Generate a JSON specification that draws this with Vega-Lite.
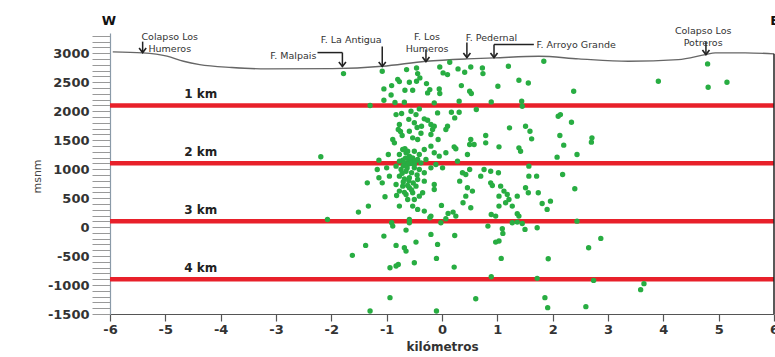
{
  "$schema": "https://vega.github.io/schema/vega-lite/v6.json",
  "width": 664,
  "height": 281,
  "autosize": {"type": "none"},
  "padding": {"left": 110, "top": 33, "right": 1, "bottom": 43},
  "background": "white",
  "config": {"view": {"stroke": null}, "text": {"font": "DejaVu Sans"}},
  "datasets": {
    "lines": [
      {"x": -6, "x2": 6, "y": 2100},
      {"x": -6, "x2": 6, "y": 1100},
      {"x": -6, "x2": 6, "y": 100},
      {"x": -6, "x2": 6, "y": -900}
    ],
    "surface": [
      {"x": -5.95, "y": 3025}, {"x": -5.41, "y": 3007}, {"x": -4.97, "y": 2950}, {"x": -4.67, "y": 2862},
      {"x": -4.38, "y": 2805}, {"x": -3.8, "y": 2755}, {"x": -3.17, "y": 2730}, {"x": -1.98, "y": 2735},
      {"x": -1.08, "y": 2775}, {"x": -0.29, "y": 2862}, {"x": 0.45, "y": 2903}, {"x": 0.94, "y": 2920},
      {"x": 1.75, "y": 2948}, {"x": 2.47, "y": 2903}, {"x": 3.37, "y": 2862}, {"x": 4.27, "y": 2890},
      {"x": 4.76, "y": 2977}, {"x": 4.94, "y": 3007}, {"x": 5.48, "y": 3007}, {"x": 6.0, "y": 2990}
    ],
    "quakes": [
      {"x":-1.78,"y":2649},{"x":-1.08,"y":2690},{"x":-0.64,"y":2718},{"x":-0.46,"y":2747},{"x":-0.44,"y":2649},
      {"x":-0.59,"y":2500},{"x":-0.46,"y":2517},{"x":-0.77,"y":2511},{"x":-0.91,"y":2442},{"x":-1.05,"y":2385},
      {"x":-0.67,"y":2362},{"x":-0.53,"y":2362},{"x":-0.40,"y":2575},{"x":-0.28,"y":2477},{"x":-0.22,"y":2373},
      {"x":-0.26,"y":2316},{"x":-0.04,"y":2764},{"x":0.02,"y":2661},{"x":0.10,"y":2632},{"x":0.14,"y":2845},
      {"x":-0.05,"y":2385},{"x":-0.04,"y":2305},{"x":0.29,"y":2730},{"x":0.41,"y":2672},{"x":0.52,"y":2764},
      {"x":0.35,"y":2442},{"x":0.50,"y":2345},{"x":0.53,"y":2305},{"x":0.73,"y":2747},{"x":0.74,"y":2649},
      {"x":1.01,"y":2431},{"x":1.20,"y":2776},{"x":1.39,"y":2534},{"x":1.56,"y":2488},{"x":1.84,"y":2862},
      {"x":2.38,"y":2345},{"x":-1.05,"y":2190},{"x":-0.68,"y":2155},{"x":-1.30,"y":2098},{"x":-0.14,"y":2144},
      {"x":0.31,"y":2172},{"x":0.89,"y":2161},{"x":1.44,"y":2172},{"x":1.45,"y":2086},{"x":-0.83,"y":1942},
      {"x":-0.73,"y":1960},{"x":-0.56,"y":2000},{"x":-0.47,"y":1942},{"x":-0.41,"y":2040},{"x":-0.32,"y":1868},
      {"x":-0.26,"y":1845},{"x":-0.08,"y":1971},{"x":0.17,"y":1983},{"x":0.23,"y":1885},{"x":0.31,"y":1983},
      {"x":0.62,"y":2029},{"x":-0.77,"y":1770},{"x":-0.79,"y":1684},{"x":-0.59,"y":1655},{"x":-0.53,"y":1540},
      {"x":-0.44,"y":1511},{"x":-0.37,"y":1741},{"x":-0.20,"y":1770},{"x":-0.17,"y":1684},{"x":-0.14,"y":1741},
      {"x":-0.20,"y":1598},{"x":-0.07,"y":1511},{"x":0.07,"y":1684},{"x":0.10,"y":1741},{"x":-0.89,"y":1511},
      {"x":-0.86,"y":1454},{"x":-0.67,"y":1351},{"x":-0.77,"y":1253},{"x":-0.65,"y":1282},{"x":-0.59,"y":1224},
      {"x":-0.50,"y":1310},{"x":-0.41,"y":1253},{"x":-0.32,"y":1339},{"x":-0.20,"y":1397},{"x":-0.14,"y":1282},
      {"x":-0.05,"y":1224},{"x":0.07,"y":1282},{"x":0.22,"y":1385},{"x":0.25,"y":1351},{"x":0.52,"y":1511},
      {"x":0.50,"y":1425},{"x":0.58,"y":1425},{"x":0.79,"y":1580},{"x":0.79,"y":1454},{"x":1.03,"y":1385},
      {"x":1.22,"y":1713},{"x":1.39,"y":1368},{"x":1.42,"y":1310},{"x":1.51,"y":1741},{"x":1.59,"y":1655},
      {"x":1.62,"y":1523},{"x":2.10,"y":1914},{"x":2.14,"y":1942},{"x":2.34,"y":1810},{"x":2.13,"y":1580},
      {"x":2.20,"y":1414},{"x":2.08,"y":1207},{"x":2.44,"y":1253},{"x":2.71,"y":1540},{"x":2.70,"y":1466},
      {"x":-2.19,"y":1213},{"x":-0.97,"y":1253},{"x":-1.14,"y":1155},{"x":0.46,"y":1253},{"x":0.28,"y":1138},
      {"x":-0.71,"y":1155},{"x":-0.71,"y":1339},{"x":-0.62,"y":1310},{"x":-0.53,"y":1195},{"x":-0.44,"y":1167},
      {"x":-0.77,"y":1138},{"x":-0.68,"y":1109},{"x":-0.56,"y":1098},{"x":-0.38,"y":1109},{"x":-0.29,"y":1167},
      {"x":-0.83,"y":1052},{"x":-0.74,"y":994},{"x":-0.65,"y":965},{"x":-0.50,"y":1023},{"x":-0.41,"y":994},
      {"x":-0.32,"y":937},{"x":-0.20,"y":1023},{"x":-0.11,"y":1080},{"x":0.01,"y":1023},{"x":-0.77,"y":879},
      {"x":-0.68,"y":833},{"x":-0.59,"y":851},{"x":-0.44,"y":822},{"x":-0.32,"y":793},{"x":-0.83,"y":736},
      {"x":-0.71,"y":707},{"x":-0.59,"y":678},{"x":-0.47,"y":707},{"x":-0.53,"y":592},{"x":-0.65,"y":563},
      {"x":-0.77,"y":621},{"x":-0.62,"y":477},{"x":-0.50,"y":477},{"x":-0.41,"y":534},{"x":-0.95,"y":879},
      {"x":-1.08,"y":764},{"x":-1.14,"y":851},{"x":-0.14,"y":736},{"x":-0.14,"y":649},{"x":-0.35,"y":592},
      {"x":-1.17,"y":994},{"x":-1.00,"y":1023},{"x":-1.35,"y":764},{"x":-1.03,"y":523},{"x":-0.82,"y":546},
      {"x":-1.33,"y":362},{"x":-1.51,"y":259},{"x":-0.77,"y":362},{"x":-0.53,"y":362},{"x":-0.44,"y":305},
      {"x":-0.32,"y":276},{"x":-0.20,"y":190},{"x":-0.01,"y":374},{"x":0.11,"y":236},{"x":0.20,"y":259},
      {"x":0.25,"y":190},{"x":0.32,"y":793},{"x":0.37,"y":937},{"x":0.43,"y":908},{"x":0.50,"y":994},
      {"x":0.70,"y":879},{"x":0.76,"y":994},{"x":0.88,"y":965},{"x":1.02,"y":937},{"x":0.88,"y":764},
      {"x":0.91,"y":718},{"x":1.06,"y":707},{"x":0.46,"y":678},{"x":0.55,"y":621},{"x":0.38,"y":420},
      {"x":0.43,"y":534},{"x":0.52,"y":333},{"x":1.03,"y":534},{"x":1.12,"y":621},{"x":1.18,"y":563},
      {"x":1.21,"y":477},{"x":1.15,"y":420},{"x":1.27,"y":362},{"x":1.03,"y":362},{"x":1.36,"y":534},
      {"x":1.51,"y":678},{"x":1.56,"y":592},{"x":1.57,"y":879},{"x":1.71,"y":879},{"x":1.74,"y":592},
      {"x":1.81,"y":408},{"x":1.90,"y":305},{"x":1.96,"y":448},{"x":2.18,"y":908},{"x":2.40,"y":661},
      {"x":0.89,"y":218},{"x":0.97,"y":190},{"x":1.36,"y":230},{"x":1.39,"y":190},{"x":1.57,"y":1052},
      {"x":-2.07,"y":132},{"x":-0.91,"y":75},{"x":-0.89,"y":17},{"x":-0.59,"y":132},{"x":-0.59,"y":75},
      {"x":-0.22,"y":161},{"x":-0.02,"y":75},{"x":0.07,"y":144},{"x":1.27,"y":75},{"x":1.36,"y":86},
      {"x":1.45,"y":63},{"x":1.50,"y":-40},{"x":0.83,"y":17},{"x":1.09,"y":-29},{"x":1.10,"y":-109},
      {"x":1.03,"y":-241},{"x":0.97,"y":-259},{"x":1.72,"y":-11},{"x":2.44,"y":103},{"x":-1.05,"y":-155},
      {"x":-0.65,"y":-52},{"x":-0.20,"y":-126},{"x":0.23,"y":-144},{"x":-1.38,"y":-316},{"x":-0.83,"y":-316},
      {"x":-0.68,"y":-356},{"x":-0.65,"y":-414},{"x":-0.47,"y":-259},{"x":-0.08,"y":-299},{"x":2.65,"y":-356},
      {"x":-1.62,"y":-488},{"x":-0.50,"y":-615},{"x":-0.10,"y":-540},{"x":-0.94,"y":-701},{"x":-0.83,"y":-672},
      {"x":-0.79,"y":-644},{"x":0.22,"y":-690},{"x":1.07,"y":-540},{"x":1.92,"y":-546},{"x":0.89,"y":-856},
      {"x":1.72,"y":-885},{"x":2.74,"y":-920},{"x":-0.94,"y":-1218},{"x":0.61,"y":-1236},{"x":1.86,"y":-1218},
      {"x":-1.30,"y":-1448},{"x":-0.10,"y":-1448},{"x":1.91,"y":-1390},{"x":2.60,"y":-1373},{"x":3.65,"y":-976},
      {"x":3.59,"y":-1080},{"x":2.87,"y":-195},{"x":4.80,"y":2817},{"x":4.81,"y":2414},{"x":5.15,"y":2500},
      {"x":3.91,"y":2517},
      {"x":-0.60,"y":1150},{"x":-0.55,"y":1130},{"x":-0.62,"y":1080},{"x":-0.50,"y":1080},{"x":-0.58,"y":1200},
      {"x":-0.66,"y":1190},{"x":-0.48,"y":1140},{"x":-0.70,"y":1060},{"x":-0.63,"y":1020},{"x":-0.55,"y":940},
      {"x":-0.45,"y":900},{"x":-0.72,"y":930},{"x":-0.60,"y":800},{"x":-0.52,"y":760},{"x":-0.70,"y":780},
      {"x":-0.62,"y":720},{"x":-0.55,"y":640},{"x":-0.68,"y":600},{"x":-0.75,"y":1650},{"x":-0.72,"y":1580},
      {"x":-0.60,"y":1860},{"x":-0.50,"y":1800},{"x":-0.45,"y":1720},{"x":-0.38,"y":1620},{"x":-0.85,"y":2150},
      {"x":-0.92,"y":2280},{"x":-0.80,"y":2550}
    ],
    "depth": [
      {"x": -4.36, "y": 2290, "t": "1 km"},
      {"x": -4.36, "y": 1300, "t": "2 km"},
      {"x": -4.36, "y": 300, "t": "3 km"},
      {"x": -4.36, "y": -700, "t": "4 km"}
    ],
    "segments": [
      {"x": -5.41, "y": 3201, "x2": -5.41, "y2": 3012},
      {"x": -2.25, "y": 3012, "x2": -1.80, "y2": 3012},
      {"x": -1.80, "y": 3012, "x2": -1.80, "y2": 2771},
      {"x": -1.08, "y": 3115, "x2": -1.08, "y2": 2771},
      {"x": -0.29, "y": 3064, "x2": -0.29, "y2": 2857},
      {"x": 0.45, "y": 3184, "x2": 0.45, "y2": 2926},
      {"x": 0.94, "y": 3150, "x2": 1.66, "y2": 3150},
      {"x": 0.94, "y": 3150, "x2": 0.94, "y2": 2926},
      {"x": 4.77, "y": 3201, "x2": 4.77, "y2": 2977},
      {"x": 6, "y": -1500, "x2": 6, "y2": 2990}
    ],
    "heads": [
      {"x": -5.41, "y": 3012}, {"x": -1.80, "y": 2771}, {"x": -1.08, "y": 2771}, {"x": -0.29, "y": 2857},
      {"x": 0.45, "y": 2926}, {"x": 0.94, "y": 2926}, {"x": 4.77, "y": 2977}
    ],
    "notesCenter": [
      {"x": -4.92, "y": 3279, "t": "Colapso Los\nHumeros"},
      {"x": -1.64, "y": 3236, "t": "F. La Antigua"},
      {"x": -0.27, "y": 3288, "t": "F. Los\nHumeros"},
      {"x": 4.72, "y": 3382, "t": "Colapso Los\nPotreros"}
    ],
    "notesLeft": [
      {"x": 0.43, "y": 3270, "t": "F. Pedernal"},
      {"x": 1.71, "y": 3150, "t": "F. Arroyo Grande"}
    ],
    "notesRight": [
      {"x": -2.27, "y": 2960, "t": "F. Malpais"}
    ],
    "compassW": [{"x": -6.02, "y": 3563, "t": "W"}],
    "compassE": [{"x": 5.93, "y": 3563, "t": "E"}]
  },
  "encoding": {
    "x": {
      "field": "x", "type": "quantitative",
      "scale": {"domain": [-6, 6], "nice": false, "zero": false},
      "axis": {
        "values": [-6, -5, -4, -3, -2, -1, 0, 1, 2, 3, 4, 5, 6],
        "labelExpr": "'' + datum.value",
        "grid": false, "domainColor": "#555", "domainWidth": 1.2, "tickColor": "#555", "tickWidth": 1.2,
        "tickSize": 7, "labelFont": "DejaVu Sans", "labelFontSize": 13, "labelFontWeight": "bold",
        "labelColor": "#333", "labelPadding": 2, "labelFlush": false,
        "title": "kilómetros", "titleFont": "DejaVu Sans", "titleFontSize": 12, "titleFontWeight": "bold",
        "titleColor": "#333", "titlePadding": 5
      }
    },
    "y": {
      "field": "y", "type": "quantitative",
      "scale": {"domain": [-1500, 3350], "nice": false, "zero": false},
      "axis": {
        "values": [-1500,-1400,-1300,-1200,-1100,-1000,-900,-800,-700,-600,-500,-400,-300,-200,-100,0,100,200,300,400,500,600,700,800,900,1000,1100,1200,1300,1400,1500,1600,1700,1800,1900,2000,2100,2200,2300,2400,2500,2600,2700,2800,2900,3000,3100,3200,3300],
        "labelExpr": "datum.value % 500 === 0 ? '' + datum.value : ''",
        "grid": false, "domainColor": "#8a9aa8", "domainWidth": 1.2, "tickColor": "#999", "tickWidth": 1,
        "tickSize": 18, "labelFont": "DejaVu Sans", "labelFontSize": 13, "labelFontWeight": "bold",
        "labelColor": "#333", "labelPadding": 3,
        "title": "msnm", "titleFont": "DejaVu Sans", "titleFontSize": 11, "titleFontWeight": "normal",
        "titleColor": "#444", "titleX": -73, "titleY": 143, "titleAngle": 270, "titleAlign": "center", "titleBaseline": "middle"
      }
    }
  },
  "layer": [
    {
      "data": {"name": "lines"},
      "mark": {"type": "rule", "color": "#e8202a", "strokeWidth": 4.5},
      "encoding": {"x2": {"field": "x2"}}
    },
    {
      "data": {"name": "surface"},
      "mark": {"type": "line", "color": "#666", "strokeWidth": 1.4, "interpolate": "monotone"},
      "encoding": {}
    },
    {
      "data": {"name": "quakes"},
      "mark": {"type": "circle", "color": "#28ad42", "size": 29, "opacity": 1}
    },
    {
      "data": {"name": "depth"},
      "mark": {"type": "text", "font": "DejaVu Sans", "fontSize": 12, "fontWeight": "bold", "color": "#222", "align": "center", "baseline": "middle"},
      "encoding": {"text": {"field": "t"}}
    },
    {
      "data": {"name": "segments"},
      "mark": {"type": "rule", "color": "#222", "strokeWidth": 1.5},
      "encoding": {"x2": {"field": "x2"}, "y2": {"field": "y2"}}
    },
    {
      "data": {"name": "heads"},
      "mark": {"type": "point", "shape": "M-1,-1.3L0,0L1,-1.3", "filled": false, "stroke": "#222", "strokeWidth": 1.6, "size": 50, "opacity": 1},
      "encoding": {}
    },
    {
      "data": {"name": "notesCenter"},
      "mark": {"type": "text", "font": "DejaVu Sans", "fontSize": 9.5, "color": "#333", "align": "center", "baseline": "middle", "lineBreak": "\n", "lineHeight": 12},
      "encoding": {"text": {"field": "t"}}
    },
    {
      "data": {"name": "notesLeft"},
      "mark": {"type": "text", "font": "DejaVu Sans", "fontSize": 9.5, "color": "#333", "align": "left", "baseline": "middle"},
      "encoding": {"text": {"field": "t"}}
    },
    {
      "data": {"name": "notesRight"},
      "mark": {"type": "text", "font": "DejaVu Sans", "fontSize": 9.5, "color": "#333", "align": "right", "baseline": "middle"},
      "encoding": {"text": {"field": "t"}}
    },
    {
      "data": {"name": "compassW"},
      "mark": {"type": "text", "font": "DejaVu Sans", "fontSize": 13, "fontWeight": "bold", "color": "#111", "align": "center", "baseline": "middle"},
      "encoding": {"text": {"field": "t"}}
    },
    {
      "data": {"name": "compassE"},
      "mark": {"type": "text", "font": "DejaVu Sans", "fontSize": 13, "fontWeight": "bold", "color": "#111", "align": "left", "baseline": "middle"},
      "encoding": {"text": {"field": "t"}}
    }
  ]
}
